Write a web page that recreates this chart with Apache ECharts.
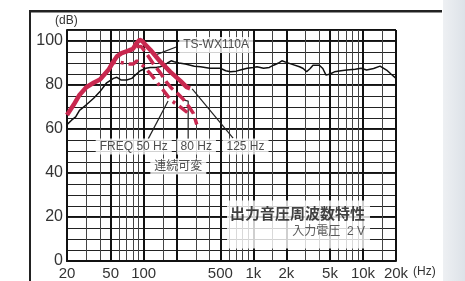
<!DOCTYPE html>
<html>
<head>
<meta charset="utf-8">
<title>出力音圧周波数特性</title>
<script src="https://cdn.jsdelivr.net/npm/echarts/dist/echarts.min.js"></script>
<style>
  html, body { margin: 0; padding: 0; background: #fff; }
  #chart { width: 465px; height: 281px; }
</style>
</head>
<body>
<div id="chart"></div>
<script>
// 周波数 [Hz, dB]
const mainCurve = [
  [20, 62], [22, 64], [24, 65.5], [26, 68.5], [30, 71], [35, 74], [40, 77], [46, 81],
  [53, 83], [57, 83.5], [62, 82.3], [70, 82.3], [78, 83], [86, 85], [93, 86.5],
  [105, 87.6], [115, 88], [130, 88], [141, 88.3], [155, 89], [165, 90], [178, 91],
  [190, 90.6], [210, 90], [240, 89.5], [290, 88.5], [330, 88.3], [400, 87.6],
  [500, 87.6], [560, 86.5], [620, 86], [700, 86.3], [760, 86.8], [880, 87.6],
  [1000, 88], [1080, 88.3], [1240, 87.6], [1400, 88], [1530, 89], [1700, 90],
  [1820, 91], [2000, 90.3], [2230, 89.5], [2640, 88.3], [2850, 87.5], [3060, 86],
  [3300, 87.5], [3500, 89], [4000, 89], [4300, 87.5], [4600, 84.5], [5000, 85],
  [5500, 86], [6300, 86.5], [7100, 86.8], [8500, 87.2], [9600, 87.6], [10800, 86.8],
  [12500, 87.5], [14300, 88.6], [16400, 86.8], [18000, 85], [20000, 83]
];
// FREQ 125 Hz
const sub125 = [
  [20, 66.4], [23, 71], [26, 75.5], [30, 79], [35, 81], [40, 82.5], [48, 87],
  [52, 90], [57, 93], [63, 94.5], [72, 95.5], [80, 96.5], [86, 99], [92, 100.5],
  [97, 100], [105, 98], [115, 96], [142, 90.6], [175, 86], [215, 82], [247, 79], [265, 78.5]
];
// FREQ 80 Hz
const sub80 = [
  [63, 94.5], [72, 95.5], [80, 96], [86, 97.5], [95, 97.5], [107, 94], [125, 89],
  [142, 85.5], [160, 81.5], [180, 78.5], [205, 76], [230, 73.5], [260, 70],
  [285, 67], [305, 62]
];
// FREQ 50 Hz
const sub50 = [
  [48, 87], [52, 90], [58, 90.5], [66, 90], [75, 89.5], [80, 89.5], [87, 91],
  [100, 88.5], [118, 84.5], [141, 79.5], [160, 76], [178, 73], [210, 70.5], [250, 67.5]
];

const minorFreqs = [30, 40, 60, 70, 80, 90, 150, 300, 400, 600, 700, 800, 900,
  1500, 3000, 4000, 6000, 7000, 8000, 9000, 15000];
const majorFreqs = [20, 50, 100, 200, 500, 1000, 2000, 5000, 10000, 20000];
const xTickLabels = [20, 50, 100, 500, 1000, 2000, 5000, 10000, 20000];

const FONT = "'Liberation Sans','Noto Sans CJK JP',sans-serif";
const RED = '#c8284f';
const lg = v => Math.log10(v);
const toXY = arr => arr.map(p => [lg(p[0]), p[1]]);

function note(text, f, db, size) {
  return {
    type: 'scatter', symbolSize: 0, silent: true, z: 5,
    data: [[lg(f), db]],
    label: {
      show: true, position: 'inside', formatter: text,
      fontSize: size, fontFamily: FONT, color: '#222',
      backgroundColor: '#fff', padding: [2, 4]
    }
  };
}
function leader(points) {
  return {
    type: 'line', symbol: 'none', silent: true, z: 3,
    data: toXY(points),
    lineStyle: { color: '#222', width: 1.2 }
  };
}

const chart = echarts.init(document.getElementById('chart'));
chart.setOption({
  animation: false,
  grid: { left: 67, right: 69, top: 30, bottom: 20 },
  xAxis: [
    {
      type: 'value', min: lg(20), max: lg(20000),
      axisLine: { show: true, lineStyle: { color: '#111', width: 2 } },
      axisTick: { show: false, customValues: majorFreqs.map(lg) },
      splitLine: { show: true, lineStyle: { color: '#111', width: 2 } },
      axisLabel: {
        customValues: xTickLabels.map(lg),
        margin: 5, fontSize: 15, fontFamily: FONT, color: '#333',
        formatter: v => {
          const f = Math.round(Math.pow(10, v));
          return f >= 1000 ? (f / 1000) + 'k' : '' + f;
        }
      }
    },
    {
      type: 'value', min: lg(20), max: lg(20000),
      axisLine: { show: false }, axisLabel: { show: false },
      axisTick: { show: false, customValues: minorFreqs.map(lg) },
      splitLine: { show: true, lineStyle: { color: '#444', width: 1 } }
    }
  ],
  yAxis: [
    {
      type: 'value', min: 0, max: 105, interval: 20,
      axisLine: { show: true, lineStyle: { color: '#111', width: 2 } },
      axisTick: { show: false },
      splitLine: { show: true, lineStyle: { color: '#111', width: 2 } },
      axisLabel: {
        margin: 4, fontSize: 16, fontFamily: FONT, color: '#333',
        formatter: v => (v % 20 === 0 ? '' + v : '')
      }
    },
    {
      type: 'value', min: 0, max: 105, interval: 5,
      axisLine: { show: false }, axisLabel: { show: false }, axisTick: { show: false },
      splitLine: { show: true, lineStyle: { color: '#222', width: 1 } }
    }
  ],
  graphic: [
    { type: 'rect', shape: { x: 443, y: 0, width: 22, height: 281 }, silent: true,
      style: { fill: new echarts.graphic.LinearGradient(0, 0, 1, 0, [
        { offset: 0, color: '#eef0f3' }, { offset: 1, color: '#dde2e8' }]) } },
    { type: 'rect', shape: { x: 29, y: 10, width: 413, height: 2.5 }, style: { fill: '#222' } },
    { type: 'rect', shape: { x: 29, y: 10, width: 2, height: 271 }, style: { fill: '#222' } },
    { type: 'text', left: 55, top: 15,
      style: { text: '(dB)', fontSize: 12, fontFamily: FONT, fill: '#333' } },
    { type: 'text', left: 413, top: 266,
      style: { text: '(Hz)', fontSize: 12, fontFamily: FONT, fill: '#333' } }
  ],
  series: [
    {
      name: 'main', type: 'line', symbol: 'none', z: 3,
      data: toXY(mainCurve),
      lineStyle: { color: '#111', width: 1.5 }
    },
    {
      name: '125 Hz', type: 'line', symbol: 'none', z: 4,
      data: toXY(sub125),
      lineStyle: { color: RED, width: 4.5 }
    },
    {
      name: '80 Hz', type: 'line', symbol: 'none', z: 4,
      data: toXY(sub80),
      lineStyle: { color: RED, width: 3.5, type: [11, 5] }
    },
    {
      name: '50 Hz', type: 'line', symbol: 'none', z: 4,
      data: toXY(sub50),
      lineStyle: { color: RED, width: 3.5, type: [11, 5, 3, 5] }
    },
    leader([[198, 97.3], [127, 93.6]]),
    leader([[110, 55.5], [167, 72.7]]),
    leader([[254.6, 55.5], [254.6, 72.7], [229, 73.2]]),
    leader([[277, 78.2], [654, 55.9]]),
    note('TS-WX110A', 458, 98.2, 12),
    note('FREQ 50 Hz', 81.2, 52, 12),
    note('80 Hz', 302, 52, 12),
    note('125 Hz', 849, 52, 12),
    note('連続可変', 207, 42.9, 12),
    {
      type: 'scatter', symbolSize: 0, silent: true, z: 5,
      data: [[lg(2583), 16.6]],
      label: {
        show: true, position: 'inside',
        formatter: '{a|出力音圧周波数特性}\n{b|入力電圧  2 V}',
        backgroundColor: '#fff', padding: [5, 5, 9, 3],
        rich: {
          a: { fontSize: 15, fontWeight: 'bold', lineHeight: 19, align: 'right',
               fontFamily: FONT, color: '#111' },
          b: { fontSize: 12, lineHeight: 15, align: 'right', fontFamily: FONT, color: '#333' }
        }
      }
    }
  ]
});
</script>
</body>
</html>
